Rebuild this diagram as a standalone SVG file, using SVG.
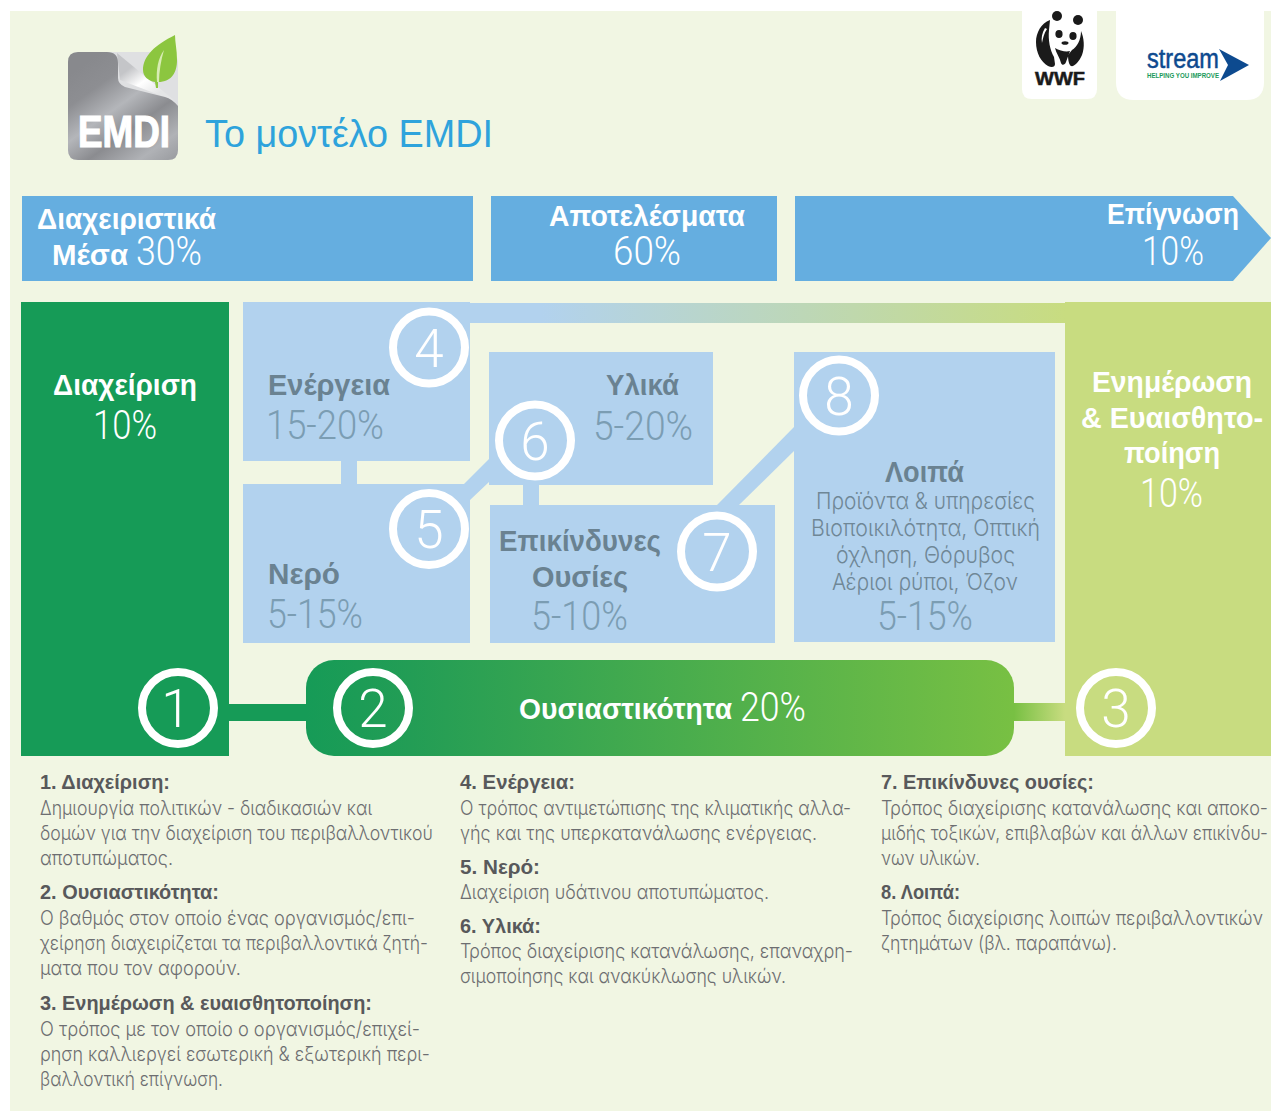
<svg xmlns="http://www.w3.org/2000/svg" width="1271" height="1111" viewBox="0 0 1271 1111">
<defs>
<linearGradient id="gTop" x1="470" y1="0" x2="1065" y2="0" gradientUnits="userSpaceOnUse"><stop offset="0.12" stop-color="#b2d2ee"/><stop offset="1" stop-color="#c8dc80"/></linearGradient>
<linearGradient id="gPill" x1="306" y1="0" x2="1014" y2="0" gradientUnits="userSpaceOnUse"><stop offset="0" stop-color="#169b57"/><stop offset="0.15" stop-color="#239d55"/><stop offset="1" stop-color="#78c043"/></linearGradient>
<linearGradient id="gLink3" x1="1014" y1="0" x2="1065" y2="0" gradientUnits="userSpaceOnUse"><stop offset="0" stop-color="#78c043"/><stop offset="1" stop-color="#c8dc80"/></linearGradient>
<linearGradient id="gLogo" x1="90" y1="60" x2="165" y2="165" gradientUnits="userSpaceOnUse"><stop offset="0" stop-color="#88898d"/><stop offset="0.2" stop-color="#8d8e92"/><stop offset="0.42" stop-color="#b4b6ba"/><stop offset="0.62" stop-color="#8b8c90"/><stop offset="0.85" stop-color="#b0b2b6"/><stop offset="1" stop-color="#9c9ea2"/></linearGradient>
<linearGradient id="gFold" x1="130" y1="68" x2="152" y2="98" gradientUnits="userSpaceOnUse"><stop offset="0" stop-color="#c4c5c8"/><stop offset="0.5" stop-color="#ffffff"/><stop offset="1" stop-color="#e4e5e6"/></linearGradient>
</defs>
<style>
.b{font-family:"Liberation Sans",Arial,sans-serif;font-weight:700}
.l{font-family:"Inter","Liberation Sans",sans-serif;font-weight:300}
.r{font-family:"Roboto","Liberation Sans",sans-serif;font-weight:300}
.w{fill:#fff}
.hd{font-size:29px}
.pc{font-size:40px}
.bb{fill:#6a8291;font-size:29px}
.bp{fill:#7b9db3;font-size:40px}
.bs{fill:#6f8796;font-size:23px}
.nt{font-size:20px;fill:#58595b}
.nb{font-size:20px;fill:#6d6e71}
.ring{fill:none;stroke:#fff;stroke-width:8}
.num{fill:#fff;font-size:53px;text-anchor:middle}
.box{fill:#b2d2ee}
</style>
<rect x="10" y="11" width="1261" height="1100" fill="#f1f6e3"/>

<g id="logo-emdi">
<rect x="68" y="52" width="110" height="108" rx="10" fill="#dfe0e2"/>
<path d="M117 53L175 101L120 80Z" fill="url(#gFold)"/>
<path d="M78 52H107Q118 52 118 63V78Q118 84 125 87L165 97Q172 99 178 106V150Q178 160 168 160H78Q68 160 68 150V62Q68 52 78 52Z" fill="url(#gLogo)"/>
<path d="M175 35C155 45 143 56 143 70C143 76 148 81 155 82L156 88L158 88L158 82C172 82 177 72 177 60C177 50 175 42 175 35Z" fill="#8cc63f"/>
<path d="M157 82C156 70 158 58 164 50C161 60 159 72 159 82Z" fill="#d8ecb4"/>
<text x="78" y="147" class="b w" font-size="45" stroke="#fff" stroke-width="1.200" textLength="92" lengthAdjust="spacingAndGlyphs">EMDI</text>
</g>
<text id="title" x="205" y="147" font-family="'Liberation Sans',Arial,sans-serif" font-size="38" fill="#2ea3dc" textLength="288" lengthAdjust="spacingAndGlyphs">Το μοντέλο EMDI</text>

<g id="logo-wwf">
<path d="M1022 11H1097V89Q1097 99 1087 99H1032Q1022 99 1022 89Z" fill="#fff"/>
<circle cx="1057" cy="16" r="5" fill="#1a1a1a"/><circle cx="1078" cy="20" r="5" fill="#1a1a1a"/>
<path d="M1050 20C1041 23 1036 33 1036 42C1036 53 1041 62 1048 66C1052 68 1055 67 1055 64L1054 57C1050 50 1048 40 1049 30Z" fill="#1a1a1a"/>
<path d="M1045 28C1042 33 1041 38 1042 43C1043 38 1044 33 1047 29Z" fill="#fff"/>
<path d="M1081 31C1084 38 1085 47 1082 55C1079 62 1074 67 1071 66C1069 65 1068 60 1068 55L1072 50C1077 47 1081 40 1081 31Z" fill="#1a1a1a"/>
<path d="M1055 48C1060 51 1066 52 1070 51L1066 62C1065 65 1062 66 1061 63C1060 58 1056 53 1055 48Z" fill="#1a1a1a"/>
<ellipse cx="1059" cy="34" rx="3.600" ry="4" fill="#1a1a1a"/><ellipse cx="1073" cy="36" rx="3.600" ry="4" fill="#1a1a1a"/>
<ellipse cx="1065" cy="43" rx="3.500" ry="1.800" fill="#1a1a1a"/>
<text x="1035" y="85" class="b" font-size="19" stroke="#1a1a1a" stroke-width="0.500" fill="#1a1a1a" textLength="50" lengthAdjust="spacingAndGlyphs">WWF</text>
</g>
<g id="logo-stream">
<path d="M1116 11H1264V82Q1264 100 1246 100H1134Q1116 100 1116 82Z" fill="#fff"/>
<text x="1147" y="68" font-family="'Liberation Sans',Arial,sans-serif" font-size="27" fill="#0d4a8f" stroke="#0d4a8f" stroke-width="0.500" textLength="72" lengthAdjust="spacingAndGlyphs">stream</text>
<text x="1147" y="77.500" class="b" font-size="8" fill="#1a9a5a" textLength="72" lengthAdjust="spacingAndGlyphs">HELPING YOU IMPROVE</text>
<polygon points="1219,49 1249,65 1220,81 1228,65" fill="#0d4a8f"/>
</g>

<g id="header-means"><rect x="22" y="196" width="451" height="85" fill="#65aee0"/>
<text x="37" y="229" class="b w hd" textLength="179" lengthAdjust="spacingAndGlyphs">Διαχειριστικά</text>
<text x="52" y="265" class="b w hd" textLength="76" lengthAdjust="spacingAndGlyphs">Μέσα</text>
<text x="136" y="265" class="r w pc" textLength="66" lengthAdjust="spacingAndGlyphs">30%</text></g>
<g id="header-results"><rect x="491" y="196" width="286" height="85" fill="#65aee0"/>
<text x="549" y="226" class="b w hd" textLength="196" lengthAdjust="spacingAndGlyphs">Αποτελέσματα</text>
<text x="613" y="265" class="r w pc" textLength="68" lengthAdjust="spacingAndGlyphs">60%</text></g>
<g id="header-awareness"><polygon points="795,196 1233,196 1271,238 1233,281 795,281" fill="#65aee0"/>
<text x="1107" y="224" class="b w hd" textLength="132" lengthAdjust="spacingAndGlyphs">Επίγνωση</text>
<text x="1142" y="265" class="r w pc" textLength="62" lengthAdjust="spacingAndGlyphs">10%</text></g>

<g id="connectors">
<rect x="470" y="303" width="595" height="20" fill="url(#gTop)"/>
<rect x="341" y="461" width="16" height="23" class="box"/>
<rect x="523" y="485" width="16" height="20" class="box"/>
<polygon points="464,484 489,459 489,482 470,500 470,484" class="box"/>
<polygon points="717,505 739,505 795,450 795,426" class="box"/>
<rect x="229" y="704" width="77" height="17" fill="#169b57"/>
<rect x="1014" y="703" width="51" height="18" fill="url(#gLink3)"/>
</g>

<g id="node-1"><rect x="21" y="302" width="208" height="454" fill="#169b57"/>
<text x="53" y="395" class="b w hd" textLength="144" lengthAdjust="spacingAndGlyphs">Διαχείριση</text>
<text x="93" y="439" class="r w pc" textLength="64" lengthAdjust="spacingAndGlyphs">10%</text>
<circle cx="178" cy="708" r="36" class="ring"/><text x="176" y="727" class="r num">1</text></g>

<g id="node-3"><rect x="1065" y="302" width="206" height="454" fill="#c8dc80"/>
<text x="1092" y="392" class="b w hd" textLength="160" lengthAdjust="spacingAndGlyphs">Ενημέρωση</text>
<text x="1081" y="428" class="b w hd" textLength="182" lengthAdjust="spacingAndGlyphs">&amp; Ευαισθητο-</text>
<text x="1124" y="463" class="b w hd" textLength="96" lengthAdjust="spacingAndGlyphs">ποίηση</text>
<text x="1140" y="507" class="r w pc" textLength="63" lengthAdjust="spacingAndGlyphs">10%</text>
<circle cx="1116" cy="708" r="36" class="ring"/><text x="1116" y="727" class="r num">3</text></g>

<g id="node-2"><rect x="306" y="660" width="708" height="96" rx="28" fill="url(#gPill)"/>
<text x="519" y="719" class="b w hd" textLength="213" lengthAdjust="spacingAndGlyphs">Ουσιαστικότητα</text>
<text x="740" y="721" class="r w pc" textLength="66" lengthAdjust="spacingAndGlyphs">20%</text>
<circle cx="373" cy="708" r="36" class="ring"/><text x="373" y="727" class="r num">2</text></g>

<g id="node-4"><rect x="243" y="302" width="227" height="159" class="box"/>
<text x="268" y="395" class="b bb" textLength="122" lengthAdjust="spacingAndGlyphs">Ενέργεια</text>
<text x="266" y="439" class="r bp" textLength="118" lengthAdjust="spacingAndGlyphs">15-20%</text>
<circle cx="429" cy="347.500" r="36" class="ring"/><text x="429" y="367" class="r num">4</text></g>

<g id="node-5"><rect x="243" y="484" width="227" height="159" class="box"/>
<text x="268" y="584" class="b bb" textLength="72" lengthAdjust="spacingAndGlyphs">Νερό</text>
<text x="267" y="628" class="r bp" textLength="96" lengthAdjust="spacingAndGlyphs">5-15%</text>
<circle cx="429" cy="529" r="36" class="ring"/><text x="429" y="548" class="r num">5</text></g>

<g id="node-6"><rect x="489" y="352" width="224" height="133" class="box"/>
<text x="606" y="395" class="b bb" textLength="73" lengthAdjust="spacingAndGlyphs">Υλικά</text>
<text x="593" y="440" class="r bp" textLength="100" lengthAdjust="spacingAndGlyphs">5-20%</text>
<circle cx="535" cy="440.500" r="36" class="ring"/><text x="535" y="460" class="r num">6</text></g>

<g id="node-7"><rect x="490" y="505" width="285" height="138" class="box"/>
<text x="499" y="551" class="b bb" textLength="162" lengthAdjust="spacingAndGlyphs">Επικίνδυνες</text>
<text x="532" y="587" class="b bb" textLength="96" lengthAdjust="spacingAndGlyphs">Ουσίες</text>
<text x="531" y="630" class="r bp" textLength="97" lengthAdjust="spacingAndGlyphs">5-10%</text>
<circle cx="717" cy="551.500" r="36" class="ring"/><text x="717" y="571" class="r num">7</text></g>

<g id="node-8"><rect x="794" y="352" width="261" height="290" class="box"/>
<text x="885" y="482" class="b bb" textLength="79" lengthAdjust="spacingAndGlyphs">Λοιπά</text>
<text x="816" y="509" class="l bs" textLength="219" lengthAdjust="spacingAndGlyphs">Προϊόντα &amp; υπηρεσίες</text>
<text x="811" y="536" class="l bs" textLength="229" lengthAdjust="spacingAndGlyphs">Βιοποικιλότητα, Οπτική</text>
<text x="836" y="563" class="l bs" textLength="179" lengthAdjust="spacingAndGlyphs">όχληση, Θόρυβος</text>
<text x="832" y="590" class="l bs" textLength="186" lengthAdjust="spacingAndGlyphs">Αέριοι ρύποι, Όζον</text>
<text x="877" y="630" class="r bp" textLength="96" lengthAdjust="spacingAndGlyphs">5-15%</text>
<circle cx="839" cy="395.500" r="36" class="ring"/><text x="839" y="415" class="r num">8</text></g>

<g id="notes-1">
<text x="40" y="789" class="b nt" textLength="130" lengthAdjust="spacingAndGlyphs">1. Διαχείριση:</text>
<text x="40" y="815" class="l nb" textLength="332" lengthAdjust="spacingAndGlyphs">Δημιουργία πολιτικών - διαδικασιών και</text>
<text x="40" y="840" class="l nb" textLength="393" lengthAdjust="spacingAndGlyphs">δομών για την διαχείριση του περιβαλλοντικού</text>
<text x="40" y="865" class="l nb" textLength="133" lengthAdjust="spacingAndGlyphs">αποτυπώματος.</text>
<text x="40" y="899" class="b nt" textLength="179" lengthAdjust="spacingAndGlyphs">2. Ουσιαστικότητα:</text>
<text x="40" y="925" class="l nb" textLength="375" lengthAdjust="spacingAndGlyphs">Ο βαθμός στον οποίο ένας οργανισμός/επι-</text>
<text x="40" y="950" class="l nb" textLength="388" lengthAdjust="spacingAndGlyphs">χείρηση διαχειρίζεται τα περιβαλλοντικά ζητή-</text>
<text x="40" y="975" class="l nb" textLength="201" lengthAdjust="spacingAndGlyphs">ματα που τον αφορούν.</text>
<text x="40" y="1010" class="b nt" textLength="332" lengthAdjust="spacingAndGlyphs">3. Ενημέρωση &amp; ευαισθητοποίηση:</text>
<text x="40" y="1036" class="l nb" textLength="380" lengthAdjust="spacingAndGlyphs">Ο τρόπος με τον οποίο ο οργανισμός/επιχεί-</text>
<text x="40" y="1061" class="l nb" textLength="390" lengthAdjust="spacingAndGlyphs">ρηση καλλιεργεί εσωτερική &amp; εξωτερική περι-</text>
<text x="40" y="1086" class="l nb" textLength="183" lengthAdjust="spacingAndGlyphs">βαλλοντική επίγνωση.</text>
</g>
<g id="notes-2">
<text x="460" y="789" class="b nt" textLength="115" lengthAdjust="spacingAndGlyphs">4. Ενέργεια:</text>
<text x="460" y="815" class="l nb" textLength="391" lengthAdjust="spacingAndGlyphs">Ο τρόπος αντιμετώπισης της κλιματικής αλλα-</text>
<text x="460" y="840" class="l nb" textLength="357" lengthAdjust="spacingAndGlyphs">γής και της υπερκατανάλωσης ενέργειας.</text>
<text x="460" y="874" class="b nt" textLength="80" lengthAdjust="spacingAndGlyphs">5. Νερό:</text>
<text x="460" y="899" class="l nb" textLength="309" lengthAdjust="spacingAndGlyphs">Διαχείριση υδάτινου αποτυπώματος.</text>
<text x="460" y="933" class="b nt" textLength="81" lengthAdjust="spacingAndGlyphs">6. Υλικά:</text>
<text x="460" y="958" class="l nb" textLength="393" lengthAdjust="spacingAndGlyphs">Τρόπος διαχείρισης κατανάλωσης, επαναχρη-</text>
<text x="460" y="983" class="l nb" textLength="326" lengthAdjust="spacingAndGlyphs">σιμοποίησης και ανακύκλωσης υλικών.</text>
</g>
<g id="notes-3">
<text x="881" y="789" class="b nt" textLength="213" lengthAdjust="spacingAndGlyphs">7. Επικίνδυνες ουσίες:</text>
<text x="881" y="815" class="l nb" textLength="387" lengthAdjust="spacingAndGlyphs">Τρόπος διαχείρισης κατανάλωσης και αποκο-</text>
<text x="881" y="840" class="l nb" textLength="387" lengthAdjust="spacingAndGlyphs">μιδής τοξικών, επιβλαβών και άλλων επικίνδυ-</text>
<text x="881" y="865" class="l nb" textLength="99" lengthAdjust="spacingAndGlyphs">νων υλικών.</text>
<text x="881" y="899" class="b nt" textLength="79" lengthAdjust="spacingAndGlyphs">8. Λοιπά:</text>
<text x="881" y="925" class="l nb" textLength="382" lengthAdjust="spacingAndGlyphs">Τρόπος διαχείρισης λοιπών περιβαλλοντικών</text>
<text x="881" y="950" class="l nb" textLength="236" lengthAdjust="spacingAndGlyphs">ζητημάτων (βλ. παραπάνω).</text>
</g>
</svg>
